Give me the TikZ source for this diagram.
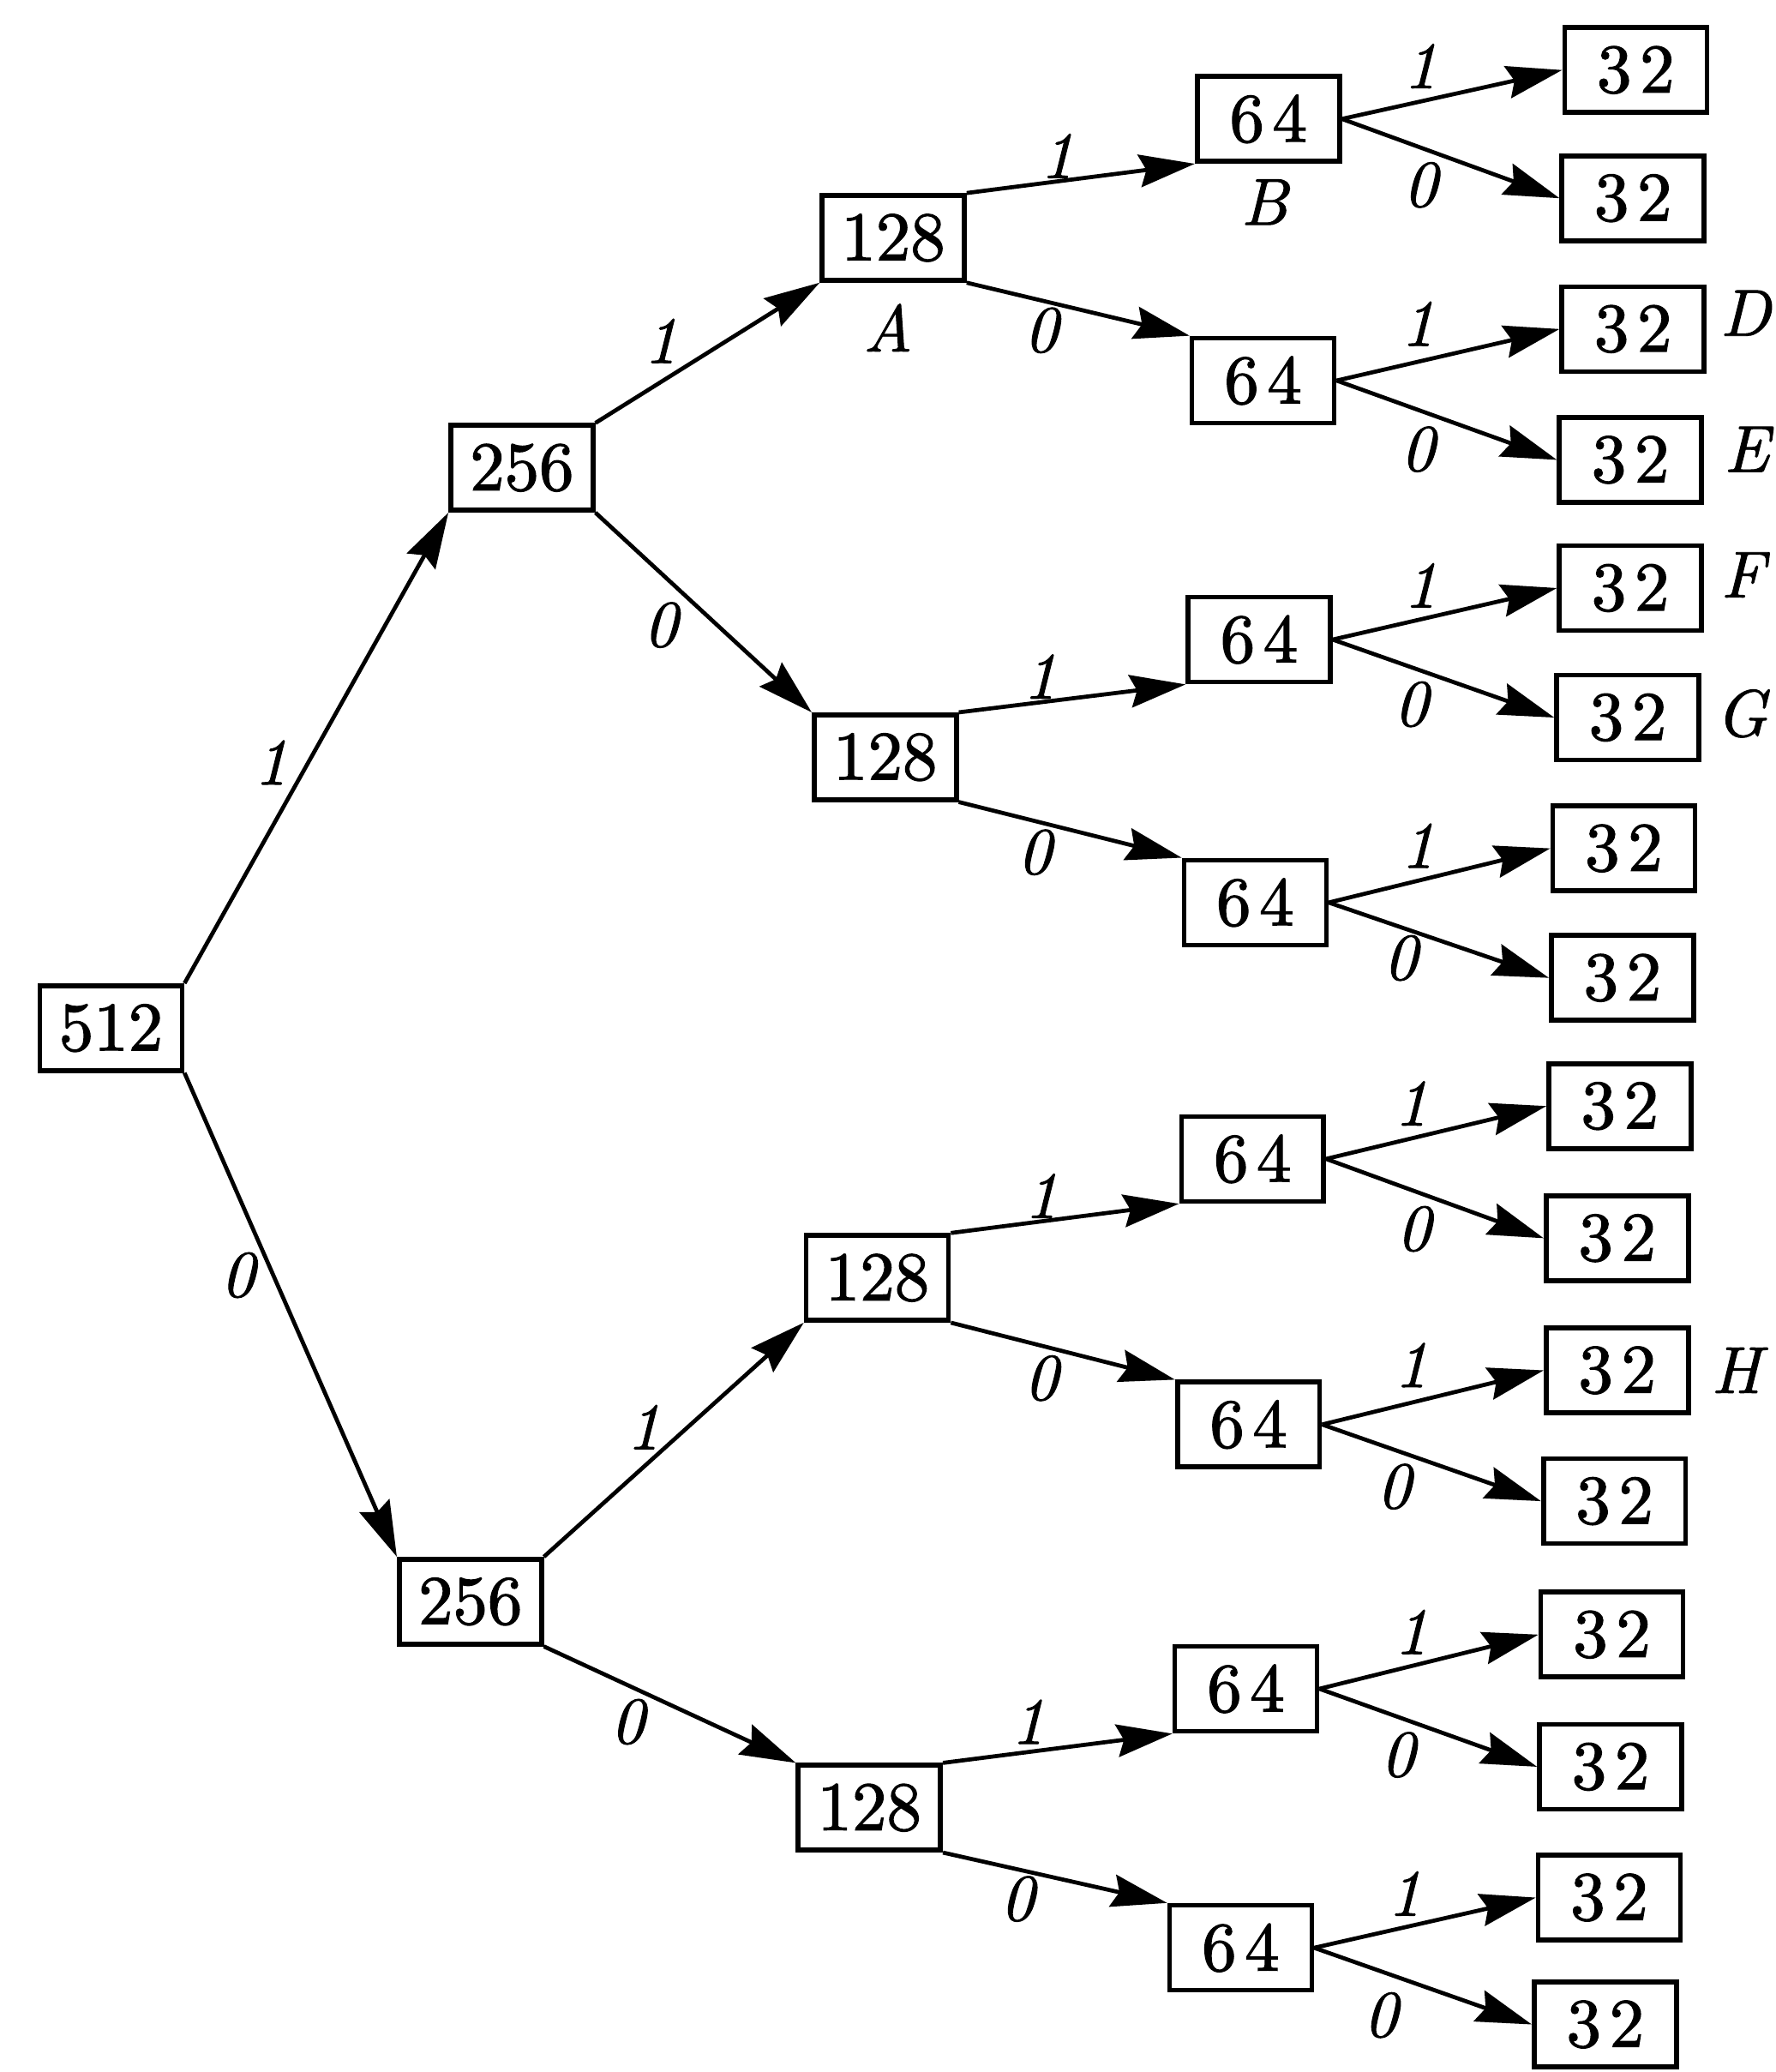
\documentclass[tikz,border=0pt]{standalone}
\usepackage{fontspec}
\usetikzlibrary{arrows.meta}
\newfontfamily\boxfont{lmroman10-regular.otf}[FakeBold=1.6]
\newfontfamily\labfont{lmroman10-italic.otf}[FakeBold=1.2]
\begin{document}
\begin{tikzpicture}[x=0.15417mm,y=-0.15417mm,
  box/.style={draw,line width=1.6pt,minimum width=1.66cm,minimum height=0.99cm,inner sep=0pt,font=\boxfont\fontsize{23}{27}\selectfont},
  edge/.style={line width=1.35pt,-{Stealth[length=6.5mm,width=3.8mm,inset=0.8mm]}},
  lab/.style={font=\labfont\fontsize{22}{26}\selectfont,inner sep=0pt},
]
\useasboundingbox[fill=white] (0,0) rectangle (1344,1568);
\newcommand{\digsp}[2]{#1\kern0.12em#2}
% level 0-2
\node[box] (r) at (84,778) {512};
\node[box] (a1) at (395,354) {256};
\node[box] (a0) at (356,1212) {256};
\node[box] (b11) at (676,180) {128};
\node[box] (b10) at (670,573) {128};
\node[box] (b01) at (664,967) {128};
\node[box] (b00) at (658,1368) {128};
% level 3
\node[box] (c1) at (960,90) {\digsp64};
\node[box] (c2) at (956,288) {\digsp64};
\node[box] (c3) at (953,484) {\digsp64};
\node[box] (c4) at (950,683) {\digsp64};
\node[box] (c5) at (948,877) {\digsp64};
\node[box] (c6) at (945,1078) {\digsp64};
\node[box] (c7) at (943,1278) {\digsp64};
\node[box] (c8) at (939,1474) {\digsp64};
% level 4
\node[box] (d1) at (1238,53) {\digsp32};
\node[box] (d2) at (1236,150) {\digsp32};
\node[box] (d3) at (1236,249) {\digsp32};
\node[box] (d4) at (1234,348) {\digsp32};
\node[box] (d5) at (1234,445) {\digsp32};
\node[box] (d6) at (1232,543) {\digsp32};
\node[box] (d7) at (1229,642) {\digsp32};
\node[box] (d8) at (1228,740) {\digsp32};
\node[box] (d9) at (1226,837) {\digsp32};
\node[box] (d10) at (1224,937) {\digsp32};
\node[box] (d11) at (1224,1037) {\digsp32};
\node[box] (d12) at (1222,1136) {\digsp32};
\node[box] (d13) at (1220,1237) {\digsp32};
\node[box] (d14) at (1219,1337) {\digsp32};
\node[box] (d15) at (1218,1436) {\digsp32};
\node[box] (d16) at (1215,1532) {\digsp32};
% edges
\draw[edge] (r.north east) -- (a1.south west);
\draw[edge] (r.south east) -- (a0.north west);
\draw[edge] (a1.north east) -- (b11.south west);
\draw[edge] (a1.south east) -- (b10.north west);
\draw[edge] (a0.north east) -- (b01.south west);
\draw[edge] (a0.south east) -- (b00.north west);
\draw[edge] (b11.north east) -- (c1.south west);
\draw[edge] (b11.south east) -- (c2.north west);
\draw[edge] (b10.north east) -- (c3.south west);
\draw[edge] (b10.south east) -- (c4.north west);
\draw[edge] (b01.north east) -- (c5.south west);
\draw[edge] (b01.south east) -- (c6.north west);
\draw[edge] (b00.north east) -- (c7.south west);
\draw[edge] (b00.south east) -- (c8.north west);
\foreach \c/\u/\l in {c1/d1/d2,c2/d3/d4,c3/d5/d6,c4/d7/d8,c5/d9/d10,c6/d11/d12,c7/d13/d14,c8/d15/d16}{
  \draw[edge] (\c.east) -- (\u.west);
  \draw[edge] (\c.east) -- (\l.west);
}
% edge labels
\node[lab] (l1) at (205,577) {1};
\node[lab] (l2) at (180,965) {0};
\node[lab] (l3) at (500,258) {1};
\node[lab] (l4) at (500,473) {0};
\node[lab] (l5) at (487,1080) {1};
\node[lab] (l6) at (475,1303) {0};
\node[lab] (l7) at (800,118) {1};
\node[lab] (l8) at (788,250) {0};
\node[lab] (l9) at (787,512) {1};
\node[lab] (l10) at (783,645) {0};
\node[lab] (l11) at (788,905) {1};
\node[lab] (l12) at (788,1043) {0};
\node[lab] (l13) at (778,1303) {1};
\node[lab] (l14) at (770,1437) {0};
\node[lab] (m1) at (1075,50) {1};
\node[lab] (m2) at (1075,140) {0};
\node[lab] (m3) at (1073,245) {1};
\node[lab] (m4) at (1073,340) {0};
\node[lab] (m5) at (1075,443) {1};
\node[lab] (m6) at (1068,533) {0};
\node[lab] (m7) at (1073,640) {1};
\node[lab] (m8) at (1060,725) {0};
\node[lab] (m9) at (1068,835) {1};
\node[lab] (m10) at (1070,930) {0};
\node[lab] (m11) at (1068,1033) {1};
\node[lab] (m12) at (1055,1125) {0};
\node[lab] (m13) at (1068,1235) {1};
\node[lab] (m14) at (1058,1328) {0};
\node[lab] (m15) at (1063,1433) {1};
\node[lab] (m16) at (1045,1525) {0};
% letter labels
\node[lab] (A) at (672,248) {A};
\node[lab] (B) at (957,153) {B};
\node[lab] (D) at (1321,237) {D};
\node[lab] (E) at (1322,340) {E};
\node[lab] (F) at (1319,435) {F};
\node[lab] (G) at (1318,540) {G};
\node[lab] (H) at (1314,1037) {H};
\end{tikzpicture}
\end{document}
